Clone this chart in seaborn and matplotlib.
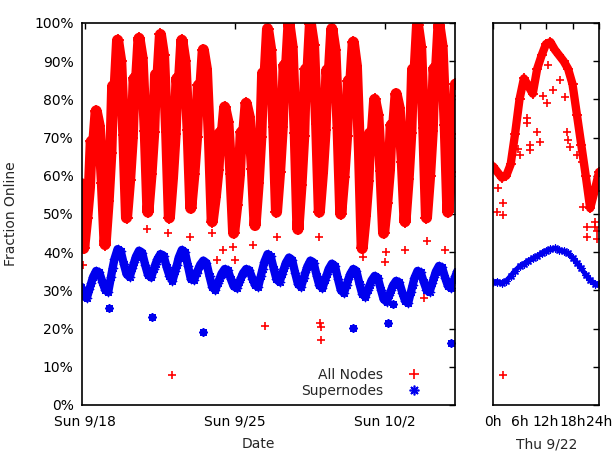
import numpy as np
import pandas as pd
import matplotlib
matplotlib.use("Agg")
import matplotlib.pyplot as plt
from matplotlib.lines import Line2D
import seaborn as sns

nan = np.nan

# ---------------- data ----------------
# left panel: days counted from Sun 9/18 00:00, one row of samples per day
day_numbers = list(range(-1, 18))           # 9/17 ... 10/5
sample_hours = [2, 5, 7, 9, 12.5, 16, 19.5, 22.5]

all_nodes_pct = [
    nan, nan, nan, nan, nan, nan, 58, 41,                 # 9/17
    49, 57, 69, 66, 77, 73, 58, 42,                       # Sun 9/18
    53.5, 66, 83.5, 79.5, 95.5, 90, 70.7, 49,
    59, 70, 85.5, 82, 96, 90.8, 71.7, 50.5,
    60.5, 71.4, 86.5, 83, 97, 91.5, 71.4, 49,
    59.5, 71, 85.5, 81.5, 95.5, 90, 72, 51.5,             # Thu 9/22
    60.4, 70.2, 83.7, 80.5, 93, 87.9, 69, 48,
    54.5, 61.5, 71.3, 69, 78, 74.2, 60.4, 45,
    52.3, 60.3, 71.4, 68.8, 79, 75.4, 61.9, 47,           # Sun 9/25
    58, 70.2, 86.9, 83, 98.5, 93, 72.9, 50.5,
    61.1, 72.8, 88.9, 85.2, 99.8, 93.8, 71.2, 46,
    57.6, 70.3, 87.9, 83.8, 99.8, 94.3, 73.5, 50.5,
    60.8, 72.1, 87.7, 84.1, 98.5, 93, 72.6, 50,
    59.7, 70.3, 84.9, 81.5, 95, 88.8, 66.2, 41,
    49.4, 58.6, 71.2, 68.3, 80, 76, 61.3, 45,
    52.8, 61.4, 73.3, 70.6, 81.5, 77.7, 63.6, 48,         # Sun 10/2
    59.1, 71.2, 87.9, 84, 99.5, 93.7, 72.5, 49,
    59.9, 71.7, 88.1, 84.3, 99.5, 93.9, 73.3, 50.5,
    61, 71, 84, 81, nan, nan, nan, nan,
]

supernodes_pct = [
    nan, nan, nan, nan, nan, nan, 31, 28.5,
    28, 30.4, 32, 33.5, 35.1, 34.7, 32.2, 30.2,
    29.6, 33.4, 35.9, 38.2, 40.8, 40.3, 36.9, 34.3,
    33.5, 35.8, 37.4, 38.8, 40.4, 39.9, 36.6, 34.1,
    33.4, 35.5, 36.9, 38.1, 39.5, 39.1, 36.1, 33.9,
    32.5, 35, 36.7, 38.6, 40.6, 40, 36.3, 33,
    32.7, 34.5, 35.6, 36.7, 37.8, 37.2, 33.7, 30.9,
    30.1, 32, 33.2, 34.4, 35.6, 35.3, 32.9, 31.1,
    30.6, 32.3, 33.5, 34.5, 35.6, 35.3, 33.1, 31.4,
    30.9, 33.8, 35.7, 37.5, 39.5, 38.9, 35.6, 32.9,
    32.2, 34.4, 35.8, 37.2, 38.6, 38, 34.5, 31.7,
    30.9, 33.2, 34.8, 36.2, 37.8, 37.3, 33.9, 31.3,
    30.6, 32.8, 34.2, 35.6, 37, 36.4, 32.9, 30.1,
    29.3, 31.4, 32.9, 34.2, 35.6, 35.1, 31.7, 29.1,
    28.3, 30.2, 31.4, 32.6, 33.8, 33.3, 30.2, 27.7,
    27, 28.9, 30.1, 31.3, 32.5, 32.1, 29.4, 27.3,
    26.7, 29.5, 31.4, 33.2, 35.1, 34.7, 32.2, 30.2,
    29.6, 31.9, 33.5, 34.9, 36.4, 36, 33.3, 31.2,
    30.6, 32.5, 33.8, 35, nan, nan, nan, nan,
]

# isolated points (day offset from 9/18 00:00, percent)
all_nodes_outlier_day = [-0.09, 0.84, 2.9, 3.88, 4.07, 4.9, 5.93, 6.17, 6.45, 6.92,
                         7.0, 7.85, 8.41, 8.97, 9.95, 10.9, 10.98, 11.03, 11.03,
                         12.99, 14.02, 14.06, 14.95, 15.84, 15.98, 16.82]
all_nodes_outlier_pct = [36.6, 43, 46, 45, 7.9, 44, 45, 38, 40.6, 41.4,
                         38, 42, 20.7, 44, 46.6, 44, 21.5, 20.3, 17,
                         38.7, 37.4, 40, 40.6, 28, 43, 40.6]
supernodes_outlier_day = [1.12, 3.13, 5.51, 12.52, 14.16, 14.39, 17.06]
supernodes_outlier_pct = [25.4, 23, 19.1, 20.2, 21.5, 26.4, 16.2]

# right panel: Thu 9/22, hourly
hours_922 = list(range(25))
all_nodes_922 = [62.5, 61, 59.5, 60, 63, 71, 80, 85.5, 83.5, 81.5, 88, 91.5, 94.5,
                 95, 93, 91.5, 90, 88, 84, 76, 68, 60, 51.5, 56, 61]
supernodes_922 = [32.2, 32.3, 32, 32.5, 33.8, 35.2, 36.3, 37, 37.8, 38.4, 39, 39.8,
                  40.4, 40.8, 41, 40.6, 40.3, 39.7, 38.6, 37.2, 35.8, 34, 32.8, 31.8, 31.6]
all_nodes_922_outlier_hour = [0.9, 1.2, 2.3, 2.3, 2.3, 5.6, 6.1, 7.7, 7.7, 8.4, 8.4, 9.9,
                              10.6, 11.3, 12.2, 12.5, 13.6, 15.1, 16.3, 16.7, 16.9, 17.4,
                              19.0, 20.1, 20.4, 21.3, 21.3, 23.1, 23.1, 23.5, 23.6]
all_nodes_922_outlier_pct = [50.5, 56.8, 53, 49.7, 7.9, 67, 65.4, 75, 73.8, 68, 66.7, 71.5,
                             68.8, 81, 79, 89, 82.5, 85, 80.6, 71.5, 69.4, 67.5,
                             65.4, 63.6, 51.8, 46.6, 44, 48, 46.5, 43.5, 45.5]

# text
date_tick_days = [0, 7, 14]
date_tick_labels = ["Sun 9/18", "Sun 9/25", "Sun 10/2"]
hour_ticks = [0, 6, 12, 18, 24]
hour_tick_labels = ["0h", "6h", "12h", "18h", "24h"]
pct_ticks = list(range(0, 101, 10))
pct_tick_labels = [f"{v}%" for v in pct_ticks]
series_names = ["All Nodes", "Supernodes"]

# ---------------- build tables ----------------
day_pos = [d + h / 24.0 for d in day_numbers for h in sample_hours]
left = pd.DataFrame({"day": day_pos, "all": all_nodes_pct, "super": supernodes_pct})
right = pd.DataFrame({"hour": hours_922, "all": all_nodes_922, "super": supernodes_922})

# ---------------- style ----------------
sns.set_style("white")
plt.rcParams["font.family"] = ["DejaVu Sans"]
plt.rcParams["font.size"] = 10

RED = "#ff0000"
BLUE = "#0000ee"
STAR = (8, 2, 0)

fig = plt.figure(figsize=(6.15, 4.51), dpi=100)
W, H = 615, 451
axL = fig.add_axes([82 / W, 1 - 405 / H, (455 - 82) / W, (405 - 23) / H])
axR = fig.add_axes([493 / W, 1 - 405 / H, (599 - 493) / W, (405 - 23) / H])

# ---- left panel ----
ld = left.dropna(subset=["all"])
sns.lineplot(data=ld, x="day", y="all", ax=axL, color=RED, lw=8, sort=False,
             estimator=None, solid_joinstyle="round", solid_capstyle="round")
sns.scatterplot(data=ld, x="day", y="all", ax=axL, color=RED, marker="+", s=70,
                linewidth=1.3)
sns.scatterplot(x=all_nodes_outlier_day, y=all_nodes_outlier_pct, ax=axL, color=RED,
                marker="+", s=40, linewidth=1.2)
sd = left.dropna(subset=["super"])
sns.lineplot(data=sd, x="day", y="super", ax=axL, color=BLUE, lw=6, sort=False,
             estimator=None, solid_joinstyle="round", solid_capstyle="round")
sns.scatterplot(data=sd, x="day", y="super", ax=axL, color=BLUE, marker=STAR, s=35,
                linewidth=1.0)
sns.scatterplot(x=supernodes_outlier_day, y=supernodes_outlier_pct, ax=axL, color=BLUE,
                marker=STAR, s=22, linewidth=1.6)

axL.set_xlim(-0.14, 17.27)
axL.set_ylim(0, 100)
axL.set_xticks(date_tick_days)
axL.set_xticklabels(date_tick_labels)
axL.set_yticks(pct_ticks)
axL.set_yticklabels(pct_tick_labels)
axL.set_xlabel("Date")
axL.set_ylabel("Fraction Online")
axL.xaxis.set_label_coords(0.472, -0.085)
axL.yaxis.set_label_coords(-0.172, 0.5)
axL.tick_params(direction="in", length=4, width=1, top=True, right=True,
                labelsize=10, colors="black")
axL.tick_params(axis="x", pad=7)
axL.tick_params(axis="y", pad=6)

handles = [Line2D([], [], color=RED, marker="+", ls="none", ms=7, mew=1.2),
           Line2D([], [], color=BLUE, marker=STAR, ls="none", ms=7, mew=1.2)]
axL.legend(handles, series_names, loc="lower right", bbox_to_anchor=(0.945, -0.015),
           frameon=False, markerfirst=False, handlelength=1.2, handletextpad=1.6,
           labelspacing=0.15, fontsize=10)

# ---- right panel ----
sns.lineplot(data=right, x="hour", y="all", ax=axR, color=RED, lw=6,
             estimator=None, solid_joinstyle="round")
sns.scatterplot(data=right, x="hour", y="all", ax=axR, color=RED, marker="+", s=60,
                linewidth=1.3)
sns.scatterplot(x=all_nodes_922_outlier_hour, y=all_nodes_922_outlier_pct, ax=axR,
                color=RED, marker="+", s=40, linewidth=1.2)
sns.lineplot(data=right, x="hour", y="super", ax=axR, color=BLUE, lw=3.5,
             estimator=None, solid_joinstyle="round")
sns.scatterplot(data=right, x="hour", y="super", ax=axR, color=BLUE, marker=STAR, s=25,
                linewidth=1)

axR.set_xlim(0, 24)
axR.set_ylim(0, 100)
axR.set_xticks(hour_ticks)
axR.set_xticklabels(hour_tick_labels)
axR.set_yticks(pct_ticks)
axR.set_yticklabels([])
axR.set_xlabel("Thu 9/22")
axR.set_ylabel("")
axR.xaxis.set_label_coords(0.51, -0.085)
axR.tick_params(direction="in", length=4, width=1, top=True, right=True,
                labelsize=10, colors="black")
axR.tick_params(axis="x", pad=7)

for ax in (axL, axR):
    for sp in ax.spines.values():
        sp.set_visible(True)
        sp.set_color("black")
        sp.set_linewidth(1.2)
    ax.grid(False)

fig.savefig("out.png", dpi=100, facecolor="white")
